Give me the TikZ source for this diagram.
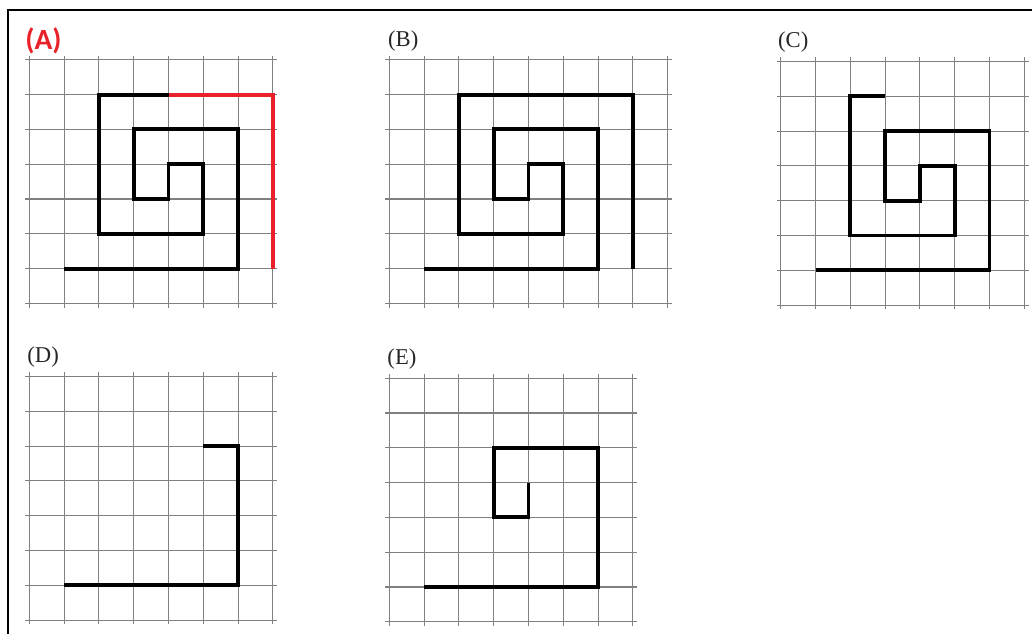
\documentclass[tikz,border=0pt]{standalone}
\usepackage{fontspec}
\setmainfont{Liberation Serif}
\newfontfamily\keyfont{Carlito}
\definecolor{keyred}{RGB}{232,34,40}
\tikzset{
  gridline/.style={black!50,line width=0.9pt},
  spiral/.style={line width=3.2pt},
  panellabel/.style={anchor=west,inner sep=0pt,text=black!85,font=\fontsize{18.5}{19}\selectfont},
}
\newcommand{\squaregrid}[2]{%
  \foreach \i in {0,...,#1} \draw[gridline] (\i,-0.12) -- (\i,#2+0.12);
  \foreach \j in {0,...,#2} \draw[gridline] (-0.12,\j) -- (#1+0.12,\j);
}
\begin{document}
\begin{tikzpicture}
\useasboundingbox (0,0) rectangle (29.655,18.218);
\draw[line width=1.5pt] (0.23,0) -- (0.23,17.93) -- (29.655,17.93);
\begin{scope}[shift={(0.842,9.50)}]
\squaregrid{7}{7}
\draw[spiral] (1,1) -| (6,5) -| (3,3) -| (4,4) -| (5,2) -| (2,6) -- (4,6);
\draw[spiral,keyred] (4,6) -| (7,1);
\node[panellabel,text=keyred,font=\keyfont\bfseries\fontsize{24}{24}\selectfont] (la) at (-0.12,7.55) {(A)};
\end{scope}
\begin{scope}[shift={(11.187,9.50)}]
\squaregrid{8}{7}
\draw[spiral] (1,1) -| (6,5) -| (3,3) -| (4,4) -| (5,2) -| (2,6) -| (7,1);
\node[panellabel] (lb) at (-0.04,7.55) {(B)};
\end{scope}
\begin{scope}[shift={(22.434,9.45)}]
\squaregrid{7}{7}
\draw[spiral] (1,1) -| (6,5) -| (3,3) -| (4,4) -| (5,2) -| (2,6) -- (3,6);
\node[panellabel] (lc) at (-0.08,7.55) {(C)};
\end{scope}
\begin{scope}[shift={(0.842,0.40)}]
\squaregrid{7}{7}
\draw[spiral] (5,5) -| (6,1) -- (1,1);
\node[panellabel] (ld) at (-0.06,7.55) {(D)};
\end{scope}
\begin{scope}[shift={(11.187,0.35)}]
\squaregrid{7}{7}
\draw[spiral] (4,4) |- (3,3) |- (6,5) |- (1,1);
\node[panellabel] (le) at (-0.06,7.55) {(E)};
\end{scope}
\end{tikzpicture}
\end{document}
